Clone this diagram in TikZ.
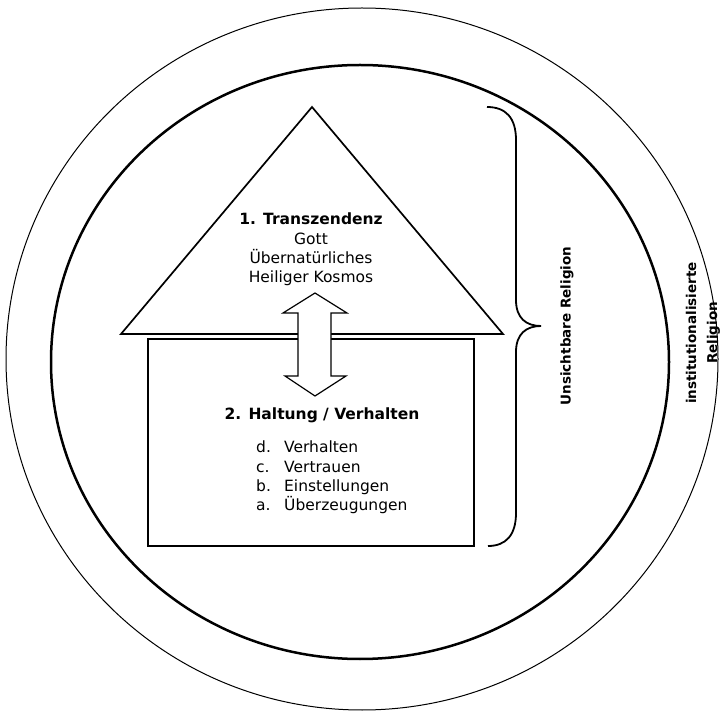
\documentclass[tikz,border=0pt]{standalone}
\usepackage{fontspec}
\setmainfont{DejaVu Sans}
\begin{document}
\begin{tikzpicture}[x=1pt,y=-1pt,
  ring/.style={draw=black},
  shape line/.style={draw=black,line width=1.7pt,line join=miter},
  bodytext/.style={font=\fontsize{15.5}{19}\selectfont,inner sep=0pt},
  headtext/.style={font=\fontsize{15.5}{19}\selectfont\bfseries,inner sep=0pt},
  sidetext/.style={font=\fontsize{13.5}{21}\selectfont\bfseries,inner sep=0pt,rotate=90,align=center}]
\useasboundingbox (0,0) rectangle (721,711);
\fill[white] (0,0) rectangle (721,711);

% outer and inner rings
\draw[ring,line width=1pt] (362,359) ellipse [x radius=356, y radius=351];
\draw[ring,line width=2.5pt] (360,362) ellipse [x radius=309, y radius=297];

% roof and house body
\coordinate (apex) at (312,107);
\coordinate (roofL) at (121,334);
\coordinate (roofR) at (503,334);
\draw[shape line] (apex) -- (roofR) -- (roofL) -- cycle;
\draw[shape line] (148,339) rectangle (474,546);

% double arrow between roof and body
\draw[black,line width=1.2pt,fill=white,line join=miter]
  (315,293) -- (347,313) -- (331,313) -- (331,376) -- (346,376) -- (315,396)
  -- (285,376) -- (298,376) -- (298,313) -- (283,313) -- cycle;

% brace
\coordinate (braceTop) at (487,107);
\coordinate (braceTip) at (541,326);
\coordinate (braceBot) at (488,546);
\draw[black,line width=1.8pt]
  (braceTop) .. controls (506,107) and (516,118) .. (516,140)
  -- (516,300) .. controls (516,318) and (526,326) .. (braceTip)
  .. controls (526,326) and (516,334) .. (516,352)
  -- (516,513) .. controls (516,535) and (506,546) .. (braceBot);

% roof texts
\node[headtext,anchor=base] (t1) at (311,225) {1. Transzendenz};
\node[bodytext,anchor=base] (t2) at (311,244.5) {Gott};
\node[bodytext,anchor=base] (t3) at (311,263.5) {Übernatürliches};
\node[bodytext,anchor=base] (t4) at (311,282.5) {Heiliger Kosmos};

% body texts
\node[headtext,anchor=base] (h2) at (322,420) {2. Haltung / Verhalten};
\node[bodytext,anchor=base west] (ld) at (256,453) {d.};
\node[bodytext,anchor=base west] (wd) at (284,453) {Verhalten};
\node[bodytext,anchor=base west] (lc) at (256,472.5) {c.};
\node[bodytext,anchor=base west] (wc) at (284,472.5) {Vertrauen};
\node[bodytext,anchor=base west] (lb) at (256,492) {b.};
\node[bodytext,anchor=base west] (wb) at (284,492) {Einstellungen};
\node[bodytext,anchor=base west] (la) at (256,511) {a.};
\node[bodytext,anchor=base west] (wa) at (284,511) {Überzeugungen};

% side labels
\node[sidetext] (inv) at (567,326) {Unsichtbare Religion};
\node[sidetext] (inst) at (703,333) {institutionalisierte\\Religion};
\end{tikzpicture}
\end{document}
